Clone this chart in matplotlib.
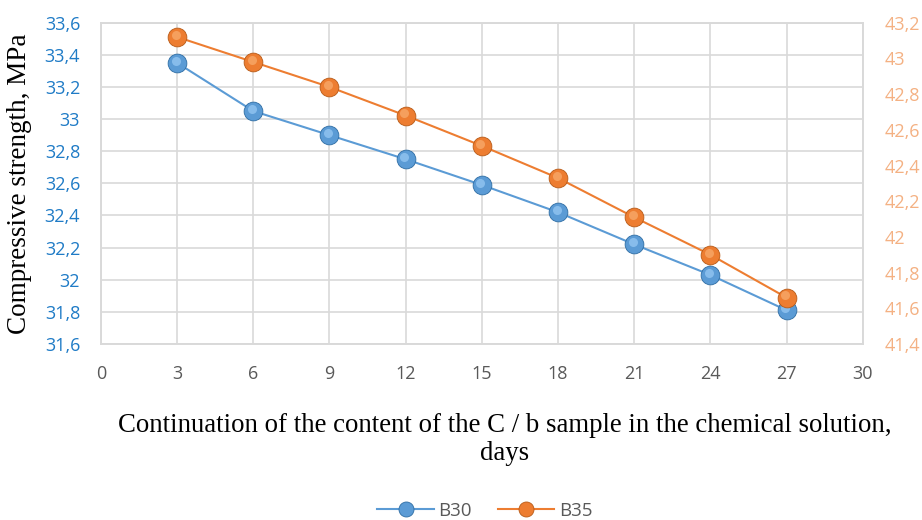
import matplotlib
matplotlib.use("Agg")
import matplotlib.pyplot as plt
from matplotlib.ticker import FuncFormatter, MultipleLocator
from matplotlib import transforms

days = [3, 6, 9, 12, 15, 18, 21, 24, 27]
b30 = [33.35, 33.05, 32.90, 32.75, 32.59, 32.42, 32.22, 32.03, 31.81]
b35 = [43.12, 42.98, 42.84, 42.68, 42.51, 42.33, 42.11, 41.90, 41.66]
series_names = ["B30", "B35"]
x_label = "Continuation of the content of the C / b sample in the chemical solution,\ndays"
y_label = "Compressive strength, MPa"

BLUE = "#5B9BD5"
BLUE_DARK = "#2E6DA4"
BLUE_LIGHT = "#8FC3F0"
ORANGE = "#ED7D31"
ORANGE_DARK = "#B85A16"
ORANGE_LIGHT = "#F7A665"
LEFT_TICK = "#1F7BC6"
RIGHT_TICK = "#F4B183"
GRID = "#D9D9D9"
TICKFONT = "Open Sans"
SERIF = "Liberation Serif"

fig = plt.figure(figsize=(9.22, 5.2), dpi=100)
ax = fig.add_axes([0.1095, 0.3385, 0.9357 - 0.1095, 0.9563 - 0.3385])
ax2 = ax.twinx()

comma = FuncFormatter(lambda v, p: ("%g" % round(v, 2)).replace(".", ","))

ax.set_xlim(0, 30)
ax.set_ylim(31.6, 33.6)
ax2.set_ylim(41.4, 43.2)
ax.xaxis.set_major_locator(MultipleLocator(3))
ax.yaxis.set_major_locator(MultipleLocator(0.2))
ax2.yaxis.set_major_locator(MultipleLocator(0.2))
ax.yaxis.set_major_formatter(comma)
ax2.yaxis.set_major_formatter(comma)

ax.grid(True, color=GRID, linewidth=1.2)
ax.set_axisbelow(True)
for a in (ax, ax2):
    for s in a.spines.values():
        s.set_color(GRID)
        s.set_linewidth(1.2)
    a.tick_params(length=0)

ax.tick_params(axis="y", colors=LEFT_TICK, labelsize=13, pad=15)
ax.tick_params(axis="x", colors="#595959", labelsize=13, pad=15)
ax2.tick_params(axis="y", colors=RIGHT_TICK, labelsize=13, pad=16)
for lab in ax.get_xticklabels() + ax.get_yticklabels() + ax2.get_yticklabels():
    lab.set_fontfamily(TICKFONT)

def sphere(a, x, y, base, dark, light, label):
    a.plot(x, y, color=base, linewidth=1.5, marker="o", markersize=13.5,
           markerfacecolor=base, markeredgecolor=dark, markeredgewidth=0.6,
           label=label, zorder=3)
    off = transforms.offset_copy(a.transData, fig=fig, x=-1.0, y=1.5, units="points")
    a.plot(x, y, linestyle="none", marker="o", markersize=6.5,
           markerfacecolor=light, markeredgewidth=0, alpha=0.85,
           transform=off, zorder=4)

sphere(ax, days, b30, BLUE, BLUE_DARK, BLUE_LIGHT, series_names[0])
sphere(ax2, days, b35, ORANGE, ORANGE_DARK, ORANGE_LIGHT, series_names[1])

ax.set_ylabel(y_label, fontfamily=SERIF, fontsize=19.5, color="black")
ax.yaxis.set_label_coords(-0.090, 0.5)
fig.text(0.547, 0.154, x_label, ha="center", va="center", fontfamily=SERIF,
         fontsize=19.3, linespacing=1.15)

h1, l1 = ax.get_legend_handles_labels()
h2, l2 = ax2.get_legend_handles_labels()
leg = fig.legend(h1 + h2, l1 + l2, loc="center", bbox_to_anchor=(0.526, 0.018),
                 ncol=2, frameon=False, handlelength=3.0, handletextpad=0.25,
                 columnspacing=1.4, markerscale=0.8,
                 prop={"family": TICKFONT, "size": 13.5})
for t in leg.get_texts():
    t.set_color("#595959")

fig.savefig("out.png", dpi=100)
